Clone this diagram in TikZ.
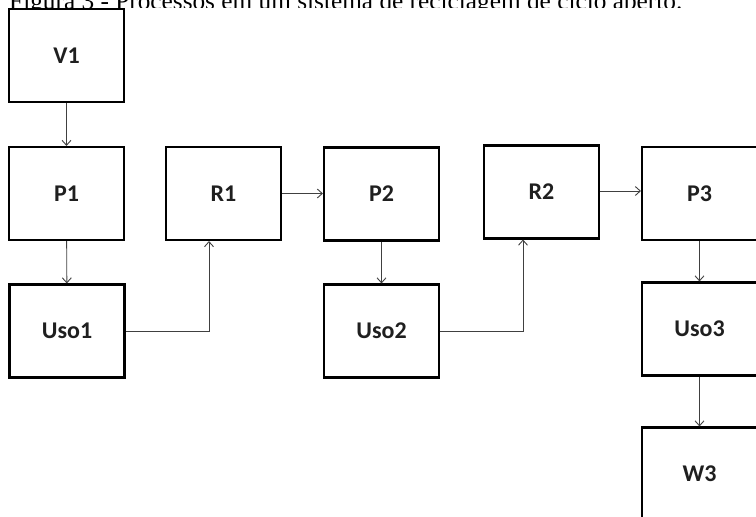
\documentclass[tikz,border=0pt]{standalone}
\usepackage{fontspec}
\setmainfont{Liberation Serif}
\newfontfamily\boxfont{Carlito}
\usetikzlibrary{arrows.meta}
\begin{document}
\begin{tikzpicture}[x=1pt,y=-1pt,
  procbox/.style={draw=black, line width=2.1pt, minimum width=115pt, minimum height=93pt,
    inner sep=0pt, font=\boxfont\bfseries\fontsize{24}{26}\selectfont, text=black!88},
  flow/.style={draw=black!75, line width=0.9pt, -{Straight Barb[length=5pt,width=9pt]}}]
  \useasboundingbox (0,0) rectangle (756,517);
  \clip (0,0) rectangle (756,517);
  % caption line, only its upper band shows above the figure
  \begin{scope}
    \clip (0,0) rectangle (756,7.5);
    \node[anchor=base west, inner sep=0pt, font=\fontsize{25.3}{28}\selectfont] (cap) at (9,9.5)
      {Figura 3 - Processos em um sistema de reciclagem de ciclo aberto.};
  \end{scope}
  % process boxes
  \node[procbox] (V1)   at (66.5,55.5) {V1};
  \node[procbox] (P1)   at (66.5,193.5) {P1};
  \node[procbox] (Uso1) at (67,331) {Uso1};
  \node[procbox] (R1)   at (223.5,193.5) {R1};
  \node[procbox] (P2)   at (381.5,194) {P2};
  \node[procbox] (Uso2) at (381.5,331) {Uso2};
  \node[procbox] (R2)   at (541.5,192) {R2};
  \node[procbox] (P3)   at (699.5,193.5) {P3};
  \node[procbox] (Uso3) at (699.5,329) {Uso3};
  \node[procbox] (W3)   at (699.5,474) {W3};
  % material flows
  \coordinate (R2out) at ([yshift=1pt]R2.east);
  \draw[flow] (V1) -- (P1);
  \draw[flow] (P1) -- (Uso1);
  \draw[flow] (Uso1.east) -| ([xshift=-14.5pt]R1.south);
  \draw[flow] (R1.east) -- (P2.west |- R1.east);
  \draw[flow] (P2.south) -- (Uso2.north);
  \draw[flow] (Uso2.east) -| ([xshift=-18.5pt]R2.south);
  \draw[flow] (R2out) -- (P3.west |- R2out);
  \draw[flow] (P3) -- (Uso3);
  \draw[flow] (Uso3) -- (W3);
\end{tikzpicture}
\end{document}
